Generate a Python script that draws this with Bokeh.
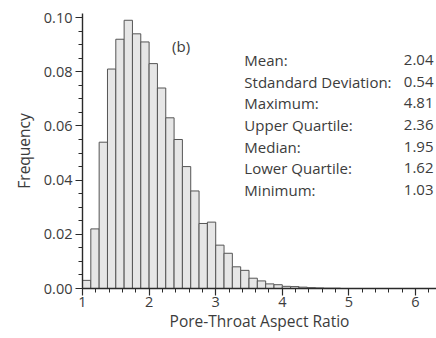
import numpy as np
from bokeh.plotting import figure
from bokeh.models import Range1d, SingleIntervalTicker, PrintfTickFormatter, ColumnDataSource
from bokeh.core.properties import value
from bokeh.embed import file_html
from bokeh.resources import INLINE

# Histogram of pore-throat aspect ratio (bins of 0.125 starting at 1.0)
bin_start = 1.0
bin_width = 0.125
frequency = [0.003, 0.022, 0.054, 0.081, 0.092, 0.099, 0.094, 0.091, 0.083, 0.074,
             0.063, 0.055, 0.045, 0.036, 0.024, 0.0245, 0.016, 0.013, 0.008, 0.0067,
             0.0038, 0.0028, 0.0017, 0.0014, 0.0008, 0.0007, 0.0005, 0.0003, 0.0002,
             0.0001, 0.0001]

# Summary statistics
stat_names = ["Mean:", "Stdandard Deviation:", "Maximum:", "Upper Quartile:",
              "Median:", "Lower Quartile:", "Minimum:"]
stat_values = ["2.04", "0.54", "4.81", "2.36", "1.95", "1.62", "1.03"]

panel_label = "(b)"
x_title = "Pore-Throat Aspect Ratio"
y_title = "Frequency"

FONT = "Open Sans"
TEXT_COLOR = "#3c3c3c"

n = len(frequency)
left = bin_start + bin_width * np.arange(n)
source = ColumnDataSource(dict(left=left, right=left + bin_width,
                               top=frequency, bottom=np.zeros(n)))

p = figure(width=436, height=338, x_range=Range1d(1.0, 6.315), y_range=Range1d(0.0, 0.1015),
           output_backend="svg", toolbar_location=None,
           min_border_left=82, min_border_right=0, min_border_top=13, min_border_bottom=50)
p.grid.visible = False
p.outline_line_color = None
p.background_fill_color = "white"
p.border_fill_color = "white"

p.quad(left="left", right="right", top="top", bottom="bottom", source=source,
       fill_color="#e6e6e6", line_color="#555555", line_width=1)

# Axes
p.xaxis.ticker = SingleIntervalTicker(interval=1, num_minor_ticks=5)
p.yaxis.ticker = SingleIntervalTicker(interval=0.02, num_minor_ticks=4)
p.yaxis.formatter = PrintfTickFormatter(format="%.2f")
for ax in (p.xaxis[0], p.yaxis[0]):
    ax.axis_line_color = "#2a2a2a"
    ax.axis_line_width = 1.4
    ax.major_tick_line_color = "#2a2a2a"
    ax.minor_tick_line_color = "#2a2a2a"
    ax.major_tick_line_width = 1.2
    ax.major_tick_out = 7
    ax.major_tick_in = 0
    ax.minor_tick_out = 4
    ax.minor_tick_in = 0
    ax.major_label_text_font = FONT
    ax.major_label_text_font_size = "14.5px"
    ax.major_label_text_color = TEXT_COLOR
    ax.axis_label_text_font = FONT
    ax.axis_label_text_font_size = "15.5px"
    ax.axis_label_text_font_style = "normal"
    ax.axis_label_text_color = TEXT_COLOR
p.xaxis.axis_label = x_title
p.yaxis.axis_label = y_title
p.xaxis.major_label_standoff = 1
p.xaxis.axis_label_standoff = 0
p.yaxis.major_label_standoff = 3
p.yaxis.axis_label_standoff = 6

# Panel tag
p.text(x=[2.48], y=[0.0894], text=[panel_label], text_font=value(FONT), text_font_size="15px",
       text_color=TEXT_COLOR, text_align="center", text_baseline="middle")

# Statistics table
row_top = 0.0843
row_step = 0.00798
rows_y = [row_top - i * row_step for i in range(len(stat_names))]
p.text(x=[3.43] * len(stat_names), y=rows_y, text=stat_names, text_font=value(FONT),
       text_font_size="15px", text_color=TEXT_COLOR, text_align="left", text_baseline="middle")
p.text(x=[6.27] * len(stat_values), y=rows_y, text=stat_values, text_font=value(FONT),
       text_font_size="15px", text_color=TEXT_COLOR, text_align="right", text_baseline="middle")

open("out.html", "w").write(file_html(p, INLINE))
